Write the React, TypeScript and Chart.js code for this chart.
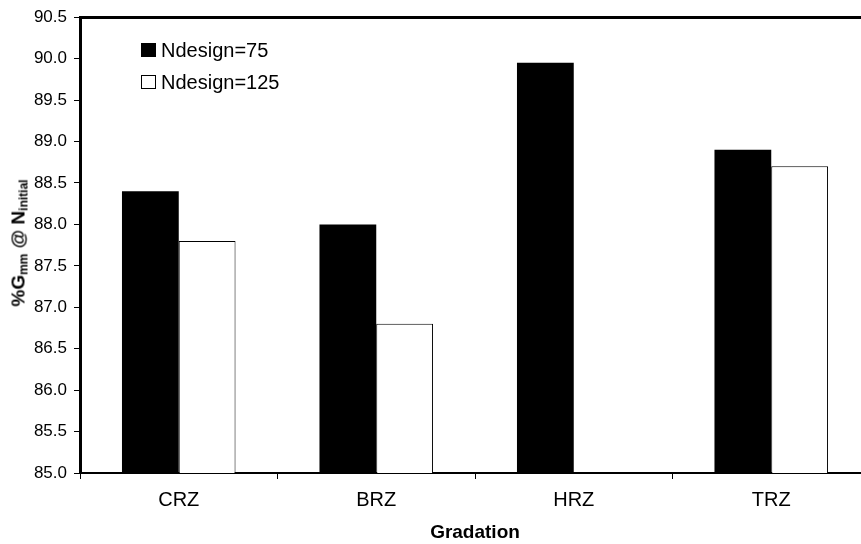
import React, { useEffect, useRef } from "react";
import { Chart, registerables } from "chart.js";

Chart.register(...registerables);

const categories = ["CRZ", "BRZ", "HRZ", "TRZ"];
const ndesign75 = [88.4, 88.0, 89.95, 88.9];
const ndesign125 = [87.8, 86.8, 85.0, 88.7];
const seriesLabels = ["Ndesign=75", "Ndesign=125"];
const yMin = 85.0;
const yMax = 90.5;
const yStep = 0.5;
const xTitle = "Gradation";

const FONT = "'Liberation Sans', Arial, Helvetica, sans-serif";

export default function App() {
  const canvasRef = useRef<HTMLCanvasElement | null>(null);

  useEffect(() => {
    const canvas = canvasRef.current;
    if (!canvas) return;
    const chart = new Chart(canvas, {
      type: "bar",
      data: {
        labels: categories,
        datasets: [
          {
            label: seriesLabels[0],
            data: ndesign75,
            backgroundColor: "#000000",
            borderColor: "#000000",
            borderWidth: 0,
            categoryPercentage: 0.575,
            barPercentage: 1.0,
          },
          {
            label: seriesLabels[1],
            data: ndesign125,
            backgroundColor: "#ffffff",
            borderColor: "#000000",
            borderWidth: 1,
            categoryPercentage: 0.575,
            barPercentage: 1.0,
          },
        ],
      },
      options: {
        responsive: false,
        animation: false,
        devicePixelRatio: 1,
        layout: { padding: { top: 16, left: 0, right: 0, bottom: 0 } },
        plugins: {
          legend: { display: false },
          tooltip: { enabled: false },
          title: { display: false },
        },
        scales: {
          x: {
            grid: {
              display: true,
              drawOnChartArea: false,
              drawTicks: true,
              tickLength: 6,
              color: "#000000",
              offset: true,
            },
            border: { display: true, color: "#000000", width: 2 },
            ticks: {
              color: "#000000",
              font: { family: FONT, size: 20 },
              padding: 9,
              maxRotation: 0,
            },
            title: {
              display: true,
              text: xTitle,
              color: "#000000",
              font: { family: FONT, size: 19, weight: "bold" },
              padding: { top: 4, bottom: 0 },
            },
            afterFit: (scale: any) => {
              scale.height = 71;
            },
          },
          y: {
            min: yMin,
            max: yMax,
            ticks: {
              stepSize: yStep,
              color: "#000000",
              font: { family: FONT, size: 17 },
              padding: 7,
              callback: (v: any) => Number(v).toFixed(1),
            },
            grid: {
              drawOnChartArea: true,
              color: (ctx: any) =>
                ctx.tick && Math.abs(ctx.tick.value - yMax) < 1e-9 ? "#000000" : "rgba(0,0,0,0)",
              lineWidth: (ctx: any) =>
                ctx.tick && Math.abs(ctx.tick.value - yMax) < 1e-9 ? 3 : 1,
              tickColor: "#000000",
              tickWidth: 1,
              tickLength: 6,
            },
            border: { display: true, color: "#000000", width: 3 },
            afterFit: (scale: any) => {
              scale.width = 80;
            },
          },
        },
      },
    });
    return () => chart.destroy();
  }, []);

  const legendRow = (label: string, fill: string, top: number) => (
    <div
      style={{
        position: "absolute",
        left: 141,
        top,
        height: 20,
        display: "flex",
        alignItems: "center",
        fontFamily: FONT,
        fontSize: 20,
        color: "#000",
        whiteSpace: "nowrap",
      }}
    >
      <span
        style={{
          display: "inline-block",
          width: 15,
          height: 14,
          boxSizing: "border-box",
          background: fill,
          border: "1px solid #000",
          marginRight: 5,
        }}
      />
      <span>{label}</span>
    </div>
  );

  return (
    <div
      style={{
        position: "fixed",
        left: 0,
        top: 0,
        width: 861,
        height: 544,
        overflow: "hidden",
        background: "#ffffff",
      }}
    >
      <canvas ref={canvasRef} width={870} height={544} style={{ display: "block", width: 870, height: 544 }} />
      {legendRow(seriesLabels[0], "#000000", 40)}
      {legendRow(seriesLabels[1], "#ffffff", 72)}
      <div
        style={{
          position: "absolute",
          left: 18,
          top: 243,
          transform: "translate(-50%, -50%) rotate(-90deg)",
          fontFamily: FONT,
          fontWeight: "bold",
          fontSize: 19,
          color: "#000",
          whiteSpace: "nowrap",
          lineHeight: 1,
        }}
      >
        %G<span style={{ fontSize: 12, position: "relative", top: 3 }}>mm</span> @ N
        <span style={{ fontSize: 12, position: "relative", top: 3 }}>initial</span>
      </div>
    </div>
  );
}
